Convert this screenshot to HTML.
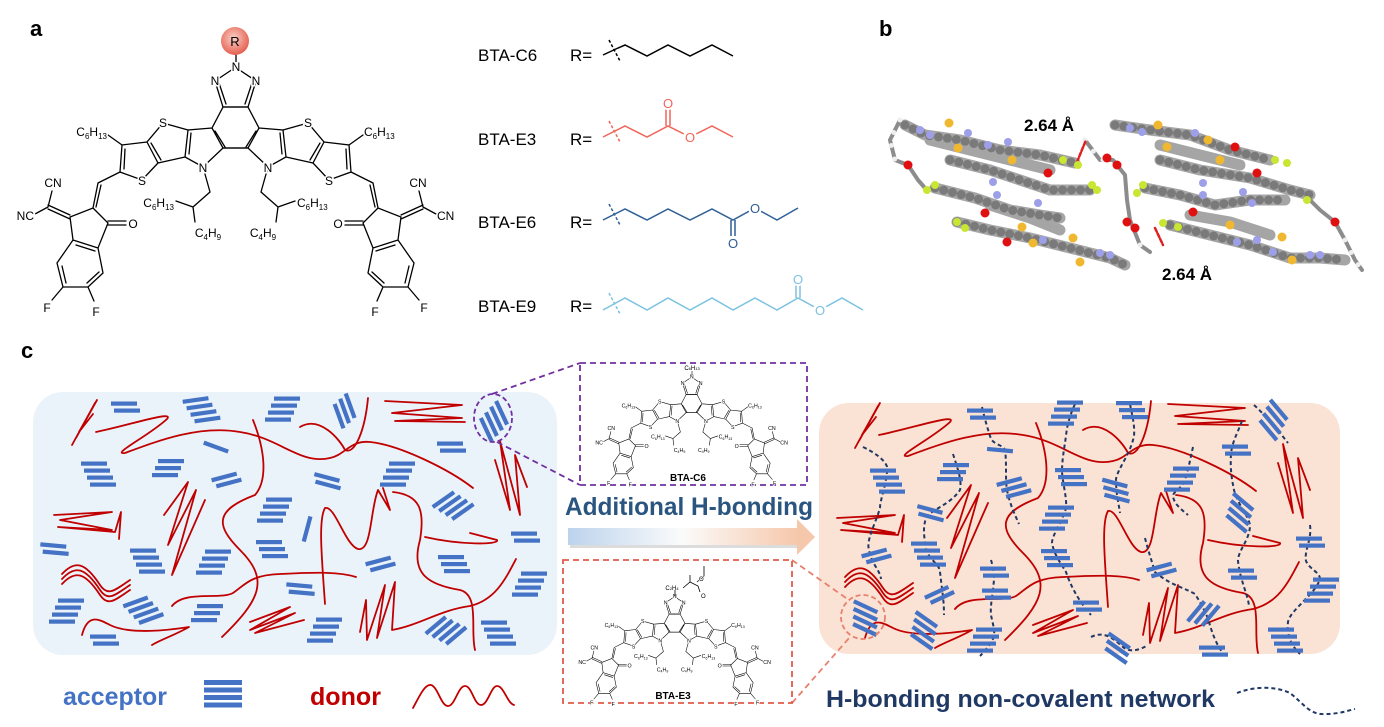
<!DOCTYPE html>
<html><head><meta charset="utf-8">
<style>
html,body{margin:0;padding:0;background:#fff;}
svg{display:block;font-family:"Liberation Sans",sans-serif;}
.bd{stroke:#000;stroke-width:1.3;fill:none;stroke-linecap:round;}
.l{font-size:12px;fill:#000;stroke:#fff;stroke-width:3px;paint-order:stroke;}
.lc{text-anchor:middle;}
.le{text-anchor:end;}
.s{font-size:8px;}
.dn{stroke:#c00000;stroke-width:1.8;fill:none;stroke-linecap:round;stroke-linejoin:round;}
.hb{stroke:#1f3864;stroke-width:2;fill:none;stroke-dasharray:4 3;}
.ac rect{fill:#4472c4;}
.lbl{font-size:17px;fill:#000;}
</style></head>
<body>
<svg width="1384" height="727" viewBox="0 0 1384 727" xmlns="http://www.w3.org/2000/svg">
<defs>
<g id="b4" class="ac"><rect x="-15" y="-12.5" width="26" height="4.2"/><rect x="-12" y="-5.5" width="26" height="4.2"/><rect x="-9" y="1.5" width="26" height="4.2"/><rect x="-6" y="8.5" width="26" height="4.2"/></g>
<g id="b3" class="ac"><rect x="-14" y="-9" width="26" height="4.2"/><rect x="-11" y="-2" width="26" height="4.2"/><rect x="-8" y="5" width="26" height="4.2"/></g>
<g id="b2" class="ac"><rect x="-14" y="-5.5" width="26" height="4.2"/><rect x="-11" y="1.5" width="26" height="4.2"/></g>
<g id="b1" class="ac"><rect x="-13" y="-2" width="26" height="4.2"/></g>
<radialGradient id="rg" cx="0.45" cy="0.4" r="0.6"><stop offset="0" stop-color="#fbd0c8"/><stop offset="1" stop-color="#e4604f"/></radialGradient>
<linearGradient id="ag" x1="0" x2="1"><stop offset="0" stop-color="#bcd3ec"/><stop offset="0.5" stop-color="#fbfbfb"/><stop offset="1" stop-color="#f6c8ab"/></linearGradient>
<g id="half">
<path class="bd" d="M236,67 L215,81 L223,107 L212,128 L223,148 M219,83 L226,104 M223,107 L248,107 M223,148 L248,148 M215,131 L225,147
M212,128 L188,130 L185,157 L203,167 L223,148 M191,133 L189,154
M188,130 L163,123 L147,142 L158,163 L185,157 M151,143 L161,160
M147,142 L122,145 L120,172 L142,180 L158,163 M125,149 L124,169
M122,145 L108,135 M120,172 L98,183 L93,208 M101,185 L96,207
M93,208 L108,223 L98,248 L73,240 L70,217 Z M108,221 L126,221 M108,225 L126,225
M70,215 L48,205 M70,219 L48,209 M48,207 L52,191 M48,207 L35,214
M73,240 L98,248 L103,273 L88,287 L63,287 L57,263 Z M76,245 L95,251 M62,266 L66,283 M99,272 L87,283
M63,287 L52,300 M88,287 L94,301
M203,167 L210,192 L193,207 L176,201 M193,207 L195,222"/>
</g>
<g id="mol">
<use href="#half"/>
<use href="#half" transform="translate(471,0) scale(-1,1)"/>
<text class="l lc" x="236" y="71">N</text>
<text class="l lc" x="215" y="85">N</text><text class="l lc" x="256" y="85">N</text>
<text class="l lc" x="163" y="127">S</text><text class="l lc" x="308" y="127">S</text>
<text class="l lc" x="142" y="185">S</text><text class="l lc" x="329" y="185">S</text>
<text class="l lc" x="203" y="172">N</text><text class="l lc" x="268" y="172">N</text>
<text class="l le" x="107" y="136">C<tspan class="s" dy="3">6</tspan><tspan dy="-3">H</tspan><tspan class="s" dy="3">13</tspan></text>
<text class="l" x="364" y="136">C<tspan class="s" dy="3">6</tspan><tspan dy="-3">H</tspan><tspan class="s" dy="3">13</tspan></text>
<text class="l lc" x="53" y="187">CN</text><text class="l lc" x="418" y="187">CN</text>
<text class="l le" x="34" y="220">NC</text><text class="l" x="437" y="220">CN</text>
<text class="l lc" x="133" y="228">O</text><text class="l lc" x="338" y="228">O</text>
<text class="l lc" x="47" y="312">F</text><text class="l lc" x="96" y="316">F</text>
<text class="l lc" x="424" y="312">F</text><text class="l lc" x="375" y="316">F</text>
<text class="l le" x="174" y="207">C<tspan class="s" dy="3">6</tspan><tspan dy="-3">H</tspan><tspan class="s" dy="3">13</tspan></text>
<text class="l" x="297" y="207">C<tspan class="s" dy="3">6</tspan><tspan dy="-3">H</tspan><tspan class="s" dy="3">13</tspan></text>
<text class="l lc" x="208" y="237">C<tspan class="s" dy="3">4</tspan><tspan dy="-3">H</tspan><tspan class="s" dy="3">9</tspan></text>
<text class="l lc" x="263" y="237">C<tspan class="s" dy="3">4</tspan><tspan dy="-3">H</tspan><tspan class="s" dy="3">9</tspan></text>
</g>
<g id="donors" class="dn">
<path d="M72,445 L95,403 L76,438 L97,400 L79,432 L93,414"/>
<path d="M96,432 C130,425 175,410 167,419 C150,435 110,455 125,453 C160,440 200,425 240,432 C280,438 300,465 330,458 C345,455 350,440 370,442 C400,445 450,470 473,488"/>
<path d="M253,420 C265,450 268,480 255,495 C215,510 215,525 240,550 C270,580 260,600 222,637"/>
<path d="M300,427 C320,415 340,440 345,450 C355,455 365,430 368,398"/>
<path d="M385,401 L462,405 L392,413 L462,418 L395,421 L465,422"/>
<path d="M495,460 L510,510 L500,441 L520,515 L515,455 L527,487"/>
<path d="M164,515 L188,482 L168,545 L196,490 L172,575 L205,500"/>
<path d="M325,604 C322,560 318,520 325,508 C335,505 345,545 358,549 C372,552 370,510 378,490 L390,510 L383,488"/>
<path d="M393,492 C420,495 425,510 420,540 C410,575 430,585 460,590 C480,595 470,630 475,650"/>
<path d="M172,606 C185,590 220,600 233,593 C245,585 250,575 280,574 C320,572 340,572 356,577"/>
<path d="M82,635 C88,612 100,620 110,625 C130,635 170,630 189,627 C175,635 160,640 152,645"/>
<path d="M54,515 L112,512 L60,520 L112,530 L58,527 L115,532 L121,512 L119,539"/>
<path d="M62,574 C75,560 85,562 100,585 C108,597 115,590 130,580"/>
<path d="M62,579 C75,565 85,567 100,590 C108,602 115,595 130,585"/>
<path d="M62,584 C75,570 85,572 100,595 C108,607 115,600 130,590"/>
<path d="M250,622 L290,607 L250,630 L295,613 L255,633 L304,620"/>
<path d="M360,632 L366,600 L367,640 L385,585 L377,638 L395,582 L392,630 C420,625 440,610 470,606 C495,600 505,580 516,559"/>
<path d="M425,537 C460,545 500,545 497,540 L470,533"/>
</g>
</defs>

<text x="30" y="36" font-size="22" font-weight="bold">a</text>
<text x="879" y="36" font-size="22" font-weight="bold">b</text>
<text x="21" y="358" font-size="22" font-weight="bold">c</text>

<use href="#mol"/>
<line x1="236" y1="54" x2="236" y2="62" stroke="#000" stroke-width="1.3"/>
<circle cx="235" cy="41" r="14" fill="url(#rg)"/>
<text x="235" y="46" font-size="13" text-anchor="middle">R</text>

<text class="lbl" x="478" y="61">BTA-C6</text><text class="lbl" x="570" y="61">R=</text>
<text class="lbl" x="478" y="145">BTA-E3</text><text class="lbl" x="570" y="145">R=</text>
<text class="lbl" x="478" y="228">BTA-E6</text><text class="lbl" x="570" y="228">R=</text>
<text class="lbl" x="478" y="312">BTA-E9</text><text class="lbl" x="570" y="312">R=</text>
<g fill="none" stroke-width="1.5">
<g stroke="#000"><path d="M603,55 L618,48 L625,45 L647,56 L668,45 L690,56 L712,45 L733,56"/><path d="M609,40 L620,61" stroke-dasharray="3 2"/></g>
<g stroke="#f0665a"><path d="M603,137 L625,126 L647,137 L668,126 L690,137 L712,126 L733,137"/><path d="M666,126 L666,108 M670,126 L670,108"/><path d="M609,121 L620,142" stroke-dasharray="3 2"/></g>
<g stroke="#2f5f96"><path d="M603,220 L625,209 L647,220 L668,209 L690,220 L712,209 L733,220 L755,208 L777,220 L798,208"/><path d="M731,220 L731,236 M735,220 L735,236"/><path d="M609,204 L620,225" stroke-dasharray="3 2"/></g>
<g stroke="#7cc2e0"><path d="M603,310 L625,298 L647,310 L668,298 L690,310 L712,298 L733,310 L755,298 L777,310 L798,298 L820,310 L842,298 L863,310"/><path d="M796,298 L796,283 M800,298 L800,283"/><path d="M609,293 L620,314" stroke-dasharray="3 2"/></g>
</g>
<g fill="#fff"><circle cx="668" cy="103" r="7"/><circle cx="690" cy="137" r="7"/><circle cx="755" cy="208" r="7"/><circle cx="733" cy="243" r="7"/><circle cx="798" cy="279" r="7"/><circle cx="820" cy="310" r="7"/></g>
<g font-size="13" text-anchor="middle">
<text x="668" y="108" fill="#f0665a">O</text><text x="690" y="142" fill="#f0665a">O</text>
<text x="755" y="213" fill="#2f5f96">O</text><text x="733" y="248" fill="#2f5f96">O</text>
<text x="798" y="284" fill="#7cc2e0">O</text><text x="820" y="315" fill="#7cc2e0">O</text>
</g>

<!-- crystal b -->
<g fill="none" stroke-linecap="round" stroke-linejoin="round">
<g stroke="#a5a5a5" stroke-width="11">
<path d="M905,125 L925,135 L960,140 L1000,150 L1040,155 L1075,163"/>
<path d="M930,140 L970,150 L1010,160 L1050,170"/>
<path d="M950,160 L990,170 L1020,180 L1050,190 L1090,190"/>
<path d="M935,188 L975,198 L1010,210 L1040,215 L1060,218"/>
<path d="M990,205 L1030,218 L1060,230"/>
<path d="M957,222 L990,230 L1030,238 L1070,248 L1110,258 L1125,265"/>
<path d="M1115,125 L1150,130 L1190,135 L1230,150 L1270,160"/>
<path d="M1160,145 L1200,155 L1240,165"/>
<path d="M1160,160 L1200,170 L1250,178 L1290,190 L1310,195"/>
<path d="M1145,188 L1180,195 L1215,205 L1250,200 L1285,200"/>
<path d="M1190,215 L1230,222 L1270,235"/>
<path d="M1170,225 L1210,235 L1250,245 L1290,258 L1320,258 L1345,260"/>
</g>
<g stroke="#8c8c8c" stroke-width="4">
<path d="M900,120 L890,140 L895,160 L908,165 L918,180 L925,188"/>
<path d="M1085,140 L1100,160 L1113,160 L1125,175 L1127,200 L1130,220 L1140,245 L1150,252"/>
<path d="M1310,200 L1320,210 L1335,222 L1345,240 L1355,260 L1362,270"/>
</g>
<g stroke="#7a7a7a" stroke-width="9" stroke-dasharray="0 9">
<path d="M905,125 L925,135 L960,140 L1000,150 L1040,155 L1075,163"/>
<path d="M950,160 L990,170 L1020,180 L1050,190 L1090,190"/>
<path d="M935,188 L975,198 L1010,210 L1040,215 L1060,218"/>
<path d="M957,222 L990,230 L1030,238 L1070,248 L1110,258 L1125,265"/>
<path d="M1115,125 L1150,130 L1190,135 L1230,150 L1270,160"/>
<path d="M1160,160 L1200,170 L1250,178 L1290,190 L1310,195"/>
<path d="M1145,188 L1180,195 L1215,205 L1250,200 L1285,200"/>
<path d="M1170,225 L1210,235 L1250,245 L1290,258 L1320,258 L1345,260"/>
</g>
<g stroke="#eee" stroke-width="5" stroke-dasharray="0 14">
<path d="M900,120 L890,140 L895,160"/>
<path d="M1085,140 L1100,160 L1113,160"/>
<path d="M1140,245 L1150,252"/>
<path d="M1345,240 L1355,260 L1362,270"/>
</g>
<path d="M1077,162 L1086,140 M1155,228 L1163,245" stroke="#e02020" stroke-width="2.5" stroke-dasharray="4 2"/>
</g>
<g fill="#f0b830"><circle cx="949" cy="123" r="4.5"/><circle cx="958" cy="148" r="4.5"/><circle cx="1012" cy="160" r="4.5"/><circle cx="1158" cy="125" r="4.5"/><circle cx="1167" cy="147" r="4.5"/><circle cx="1220" cy="160" r="4.5"/><circle cx="1208" cy="140" r="4.5"/><circle cx="1022" cy="227" r="4.5"/><circle cx="1033" cy="243" r="4.5"/><circle cx="1073" cy="238" r="4.5"/><circle cx="1080" cy="262" r="4.5"/><circle cx="1230" cy="225" r="4.5"/><circle cx="1282" cy="237" r="4.5"/><circle cx="1292" cy="260" r="4.5"/></g>
<g fill="#c8e632"><circle cx="1063" cy="160" r="4"/><circle cx="1078" cy="165" r="4"/><circle cx="935" cy="185" r="4"/><circle cx="927" cy="190" r="4"/><circle cx="1097" cy="190" r="4"/><circle cx="1092" cy="185" r="4"/><circle cx="957" cy="222" r="4"/><circle cx="965" cy="228" r="4"/><circle cx="1143" cy="185" r="4"/><circle cx="1137" cy="193" r="4"/><circle cx="1163" cy="223" r="4"/><circle cx="1178" cy="227" r="4"/><circle cx="1275" cy="160" r="4"/><circle cx="1287" cy="163" r="4"/><circle cx="1307" cy="200" r="4"/></g>
<g fill="#e01010"><circle cx="908" cy="165" r="4.5"/><circle cx="1107" cy="158" r="4.5"/><circle cx="1117" cy="165" r="4.5"/><circle cx="1048" cy="173" r="4.5"/><circle cx="985" cy="213" r="4.5"/><circle cx="1007" cy="242" r="4.5"/><circle cx="1127" cy="222" r="4.5"/><circle cx="1135" cy="228" r="4.5"/><circle cx="1193" cy="212" r="4.5"/><circle cx="1235" cy="147" r="4.5"/><circle cx="1257" cy="173" r="4.5"/><circle cx="1335" cy="222" r="4.5"/></g>
<g fill="#9da0e8"><circle cx="920" cy="130" r="4"/><circle cx="930" cy="135" r="4"/><circle cx="968" cy="133" r="4"/><circle cx="1008" cy="142" r="4"/><circle cx="988" cy="145" r="4"/><circle cx="993" cy="182" r="4"/><circle cx="997" cy="195" r="4"/><circle cx="1038" cy="203" r="4"/><circle cx="1130" cy="128" r="4"/><circle cx="1142" cy="132" r="4"/><circle cx="1195" cy="133" r="4"/><circle cx="1203" cy="183" r="4"/><circle cx="1243" cy="192" r="4"/><circle cx="1252" cy="203" r="4"/><circle cx="1203" cy="195" r="4"/><circle cx="1043" cy="240" r="4"/><circle cx="1100" cy="253" r="4"/><circle cx="1110" cy="255" r="4"/><circle cx="1237" cy="242" r="4"/><circle cx="1257" cy="240" r="4"/><circle cx="1310" cy="255" r="4"/><circle cx="1320" cy="255" r="4"/><circle cx="1273" cy="252" r="4"/></g>
<text x="1024" y="131" font-size="17" font-weight="bold">2.64 Å</text>
<text x="1162" y="280" font-size="17" font-weight="bold">2.64 Å</text>

<rect x="33" y="392" width="524" height="263" rx="30" fill="#ebf3fa"/>
<use href="#donors"/>
<use href="#b2" transform="translate(125,407)"/>
<use href="#b4" transform="translate(199,410) rotate(-8)"/>
<use href="#b4" transform="translate(285,409) scale(-1,1)"/>
<use href="#b3" transform="translate(344,409) rotate(70)"/>
<use href="#b4" transform="translate(493,419) rotate(65)"/>
<use href="#b2" transform="translate(451,447)"/>
<use href="#b1" transform="translate(216,447) rotate(20)"/>
<use href="#b4" transform="translate(96,474)"/>
<use href="#b3" transform="translate(170,468) scale(-1,1)"/>
<use href="#b2" transform="translate(226,480) rotate(-15)"/>
<use href="#b2" transform="translate(327,481) rotate(15)"/>
<use href="#b4" transform="translate(400,474) scale(-1,1)"/>
<use href="#b4" transform="translate(451,507) rotate(-35)"/>
<use href="#b4" transform="translate(277,510) scale(-1,1)"/>
<use href="#b1" transform="translate(307,529) rotate(-75)"/>
<use href="#b2" transform="translate(54,549) rotate(5)"/>
<use href="#b4" transform="translate(145,561)"/>
<use href="#b4" transform="translate(216,562) scale(-1,1)"/>
<use href="#b3" transform="translate(270,549)"/>
<use href="#b2" transform="translate(380,564) rotate(-15)"/>
<use href="#b3" transform="translate(452,564)"/>
<use href="#b2" transform="translate(525,537)"/>
<use href="#b4" transform="translate(532,584) scale(-1,1)"/>
<use href="#b2" transform="translate(300,589) rotate(5)"/>
<use href="#b4" transform="translate(69,611) scale(-1,1)"/>
<use href="#b4" transform="translate(141,611) rotate(-20)"/>
<use href="#b3" transform="translate(209,613) scale(-1,1)"/>
<use href="#b4" transform="translate(327,630) scale(-1,1)"/>
<use href="#b2" transform="translate(104,640)"/>
<use href="#b4" transform="translate(444,632) rotate(-40)"/>
<use href="#b4" transform="translate(496,633)"/>
<ellipse cx="493" cy="418" rx="19" ry="24" fill="none" stroke="#7030a0" stroke-width="1.8" stroke-dasharray="5 3"/>

<rect x="819" y="403" width="521" height="251" rx="30" fill="#fae2d4"/>
<use href="#donors" transform="translate(783,3)"/>
<g class="hb">
<path d="M863,447 C880,455 890,465 887,472 C885,490 880,500 880,508 C875,525 866,540 869,550 C872,565 880,570 881,579"/>
<path d="M953,454 C958,470 962,480 960,490 C950,505 930,510 926,518 C922,530 925,540 926,550 C930,560 940,565 940,572 C942,590 944,600 944,615"/>
<path d="M982,407 C985,420 988,430 991,439 C995,445 1003,445 1005,450 C1007,465 1005,478 1007,490 C1010,505 1015,515 1019,524"/>
<path d="M991,560 C994,570 994,575 994,579 C993,595 990,605 991,615 C993,625 995,630 994,637 C990,645 984,652 980,656"/>
<path d="M1075,404 C1070,415 1067,425 1066,436 C1064,450 1062,460 1062,472 C1063,485 1067,498 1066,508 C1063,520 1052,535 1052,543 C1054,555 1062,565 1066,572 C1072,590 1082,605 1091,615"/>
<path d="M1130,404 C1132,415 1135,425 1134,436 C1130,455 1118,468 1116,479 C1116,495 1119,505 1120,513"/>
<path d="M1145,538 C1148,550 1152,562 1155,572 C1170,585 1185,588 1195,594 C1202,605 1207,615 1209,622 C1214,640 1220,650 1224,654"/>
<path d="M1193,447 C1190,460 1188,472 1184,482 C1180,490 1172,492 1173,497 C1175,505 1182,510 1188,515"/>
<path d="M1242,421 C1238,432 1232,442 1231,454 C1230,470 1232,480 1234,490 C1238,505 1248,515 1250,525 C1250,540 1238,550 1238,561 C1240,580 1248,595 1249,606"/>
<path d="M1254,405 C1265,415 1278,430 1288,443"/>
<path d="M1310,525 C1312,540 1304,550 1306,561 C1310,570 1320,572 1320,579 C1315,595 1290,610 1288,622 C1286,640 1296,650 1300,654"/>
<path d="M1091,637 C1105,630 1115,640 1123,647 C1130,653 1140,650 1148,645"/>
</g>
<use href="#b2" transform="translate(981,414)"/>
<use href="#b4" transform="translate(1068,413) scale(-1,1)"/>
<use href="#b3" transform="translate(1130,410)"/>
<use href="#b4" transform="translate(1272,418) rotate(50)"/>
<use href="#b1" transform="translate(1000,450) rotate(5)"/>
<use href="#b2" transform="translate(1236,450)"/>
<use href="#b4" transform="translate(885,481)"/>
<use href="#b3" transform="translate(955,472) scale(-1,1)"/>
<use href="#b3" transform="translate(1012,488) rotate(-15)"/>
<use href="#b3" transform="translate(1069,477)"/>
<use href="#b3" transform="translate(1114,490) rotate(15)"/>
<use href="#b4" transform="translate(1184,479) scale(-1,1)"/>
<use href="#b4" transform="translate(1238,511) rotate(40)"/>
<use href="#b2" transform="translate(930,513) rotate(15)"/>
<use href="#b4" transform="translate(1059,518) scale(-1,1)"/>
<use href="#b2" transform="translate(876,556) rotate(-15)"/>
<use href="#b4" transform="translate(926,554)"/>
<use href="#b3" transform="translate(1055,558)"/>
<use href="#b2" transform="translate(1310,542)"/>
<use href="#b2" transform="translate(994,572)"/>
<use href="#b2" transform="translate(1161,570) rotate(-15)"/>
<use href="#b2" transform="translate(1242,574)"/>
<use href="#b2" transform="translate(939,595) rotate(-25)"/>
<use href="#b2" transform="translate(996,594)"/>
<use href="#b2" transform="translate(1087,606)"/>
<use href="#b4" transform="translate(1324,590) scale(-1,1)"/>
<use href="#b4" transform="translate(922,629) rotate(35)"/>
<use href="#b3" transform="translate(1202,615) rotate(-50)"/>
<use href="#b4" transform="translate(987,640) scale(-1,1)"/>
<use href="#b3" transform="translate(1116,647) rotate(35)"/>
<use href="#b2" transform="translate(1213,651)"/>
<use href="#b4" transform="translate(1283,640)"/>
<use href="#b4" transform="translate(863,617) rotate(25)"/>
<circle cx="863" cy="617" r="22" fill="none" stroke="#e8806e" stroke-width="1.8" stroke-dasharray="5 3"/>

<path d="M492,394 L580,363 M497,442 L580,485" stroke="#7030a0" stroke-width="1.8" stroke-dasharray="6 4" fill="none"/>
<path d="M792,560 L846,598 M792,703 L850,637" stroke="#e8806e" stroke-width="1.8" stroke-dasharray="6 4" fill="none"/>

<rect x="580" y="363" width="227" height="122" fill="#fff" stroke="#7030a0" stroke-width="1.8" stroke-dasharray="6 4"/>
<use href="#mol" transform="translate(588,347.5) scale(0.44)"/>
<text x="692" y="370" font-size="6" text-anchor="middle">C<tspan font-size="4">6</tspan>H<tspan font-size="4">13</tspan></text>
<line x1="692" y1="371" x2="692" y2="375" stroke="#000" stroke-width="0.6"/>
<text x="688" y="481" font-size="10" font-weight="bold" text-anchor="middle">BTA-C6</text>

<text x="565" y="515" font-size="25" font-weight="bold" fill="#2a5580" textLength="248" lengthAdjust="spacingAndGlyphs">Additional H-bonding</text>
<rect x="570" y="530" width="228" height="18" fill="#b9b9b9" opacity="0.5"/>
<rect x="568" y="528" width="229" height="17" fill="url(#ag)"/>
<polygon points="797,519 815,537 797,555" fill="#f6c8ab"/>

<rect x="563" y="560" width="229" height="143" fill="#fff" stroke="#e05a4a" stroke-width="1.8" stroke-dasharray="6 4"/>
<use href="#mol" transform="translate(571,567) scale(0.44)"/>
<path d="M675,596 L675,590 M683,588 L690,582 L698,586 L700,592 M697,582 L704,576 L704,566 M690,582 L690,575" stroke="#000" stroke-width="0.8" fill="none"/>
<text x="672" y="590" font-size="6" text-anchor="middle">C<tspan font-size="4">2</tspan>H<tspan font-size="4">4</tspan></text>
<text x="701" y="598" font-size="6">O</text>
<text x="699" y="581" font-size="6" stroke="#fff" stroke-width="1.5" paint-order="stroke">O</text>
<text x="673" y="699" font-size="10" font-weight="bold" text-anchor="middle">BTA-E3</text>

<text x="63" y="705" font-size="25" font-weight="bold" fill="#4472c4" textLength="104" lengthAdjust="spacingAndGlyphs">acceptor</text>
<g fill="#4472c4"><rect x="204" y="680" width="38" height="5"/><rect x="204" y="687.5" width="38" height="5"/><rect x="204" y="695" width="38" height="5"/><rect x="204" y="702.5" width="38" height="5"/></g>
<text x="310" y="705" font-size="25" font-weight="bold" fill="#c00000" textLength="71" lengthAdjust="spacingAndGlyphs">donor</text>
<path d="M413,708 C420,695 425,684 431,685 C438,687 441,706 448,706 C455,706 458,686 465,686 C472,686 474,705 481,705 C488,705 491,686 497,686 C504,686 507,703 514,705" class="dn"/>
<text x="826" y="707" font-size="24" font-weight="bold" fill="#1f3864" textLength="389" lengthAdjust="spacingAndGlyphs">H-bonding non-covalent network</text>
<path d="M1237,693 C1255,686 1275,686 1290,693 C1305,705 1310,715 1325,714 C1340,714 1350,710 1355,709" class="hb" stroke-width="1.8"/>
</svg>
</body></html>
